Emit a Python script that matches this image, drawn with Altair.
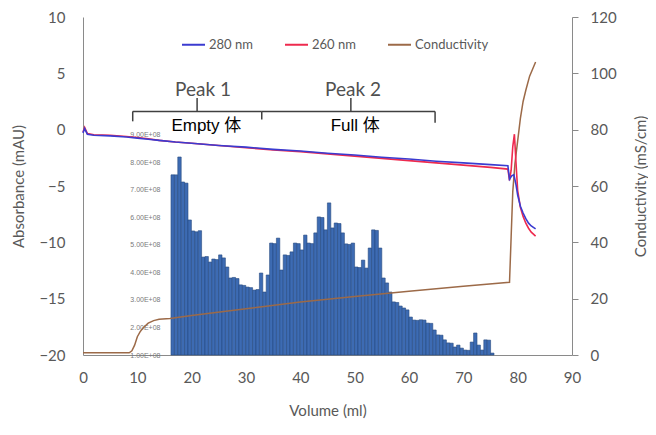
import altair as alt
import pandas as pd

# ---- Absorbance traces (mAU) ----
vol_280 = [0, 0.3, 0.8, 2, 5, 8, 10, 12, 14, 17, 20, 25, 30, 35, 40, 45, 50, 55, 60, 65, 70, 75, 78.2,
           78.5, 78.9, 79.3, 79.7, 80.0, 80.5, 81.0, 81.5, 82.0, 82.5, 83.3]
abs_280 = [-0.3, 0.1, -0.4, -0.5, -0.55, -0.65, -0.75, -0.85, -0.95, -1.1, -1.2, -1.4, -1.55, -1.75, -1.9,
           -2.1, -2.25, -2.45, -2.6, -2.8, -2.95, -3.1, -3.2,
           -4.4, -4.1, -4.0, -4.9, -5.8, -6.8, -7.4, -7.9, -8.3, -8.55, -8.8]
vol_260 = [0, 0.3, 0.8, 2, 5, 8, 10, 12, 14, 17, 20, 25, 30, 35, 40, 45, 50, 55, 60, 65, 70, 75, 78.2,
           78.5, 78.8, 79.1, 79.4, 79.7, 80.0, 80.5, 81.0, 81.5, 82.0, 82.5, 83.3]
abs_260 = [-0.2, 0.2, -0.35, -0.45, -0.5, -0.6, -0.7, -0.8, -0.95, -1.1, -1.2, -1.4, -1.6, -1.8, -1.95,
           -2.15, -2.35, -2.55, -2.75, -2.95, -3.15, -3.35, -3.5,
           -4.5, -3.6, -1.5, -0.4, -3.0, -5.4, -6.9, -7.7, -8.3, -8.75, -9.1, -9.45]

# ---- Conductivity (mS/cm) ----
vol_cond = [0, 4, 8.5, 9.0, 9.5, 10.0, 10.5, 11.0, 12.0, 13.0, 14.0, 16.0, 20, 30, 40, 50, 60, 70,
            78.5, 78.8, 79.1, 79.5, 80.0, 80.5, 81.0, 81.5, 82.2, 83.3]
cond = [0.8, 0.8, 0.8, 1.5, 3.5, 6.5, 8.2, 9.5, 11.3, 12.2, 12.7, 13.0, 14.0, 16.4, 18.8, 20.8, 22.6, 24.4,
        25.8, 42, 58, 68, 76, 84, 90, 94, 99, 104]

# ---- Inset histogram (particle counts, units of 1E+08) ----
hist_e8 = [7.55, 7.55, 8.20, 7.29, 7.25, 5.91, 5.51, 5.48, 5.52, 4.56, 4.58, 4.38, 4.49, 4.47, 4.64, 4.53,
           4.20, 3.80, 3.82, 3.78, 3.55, 3.53, 3.47, 3.45, 3.36, 3.38, 3.98, 3.29, 3.91, 5.07, 5.05, 5.25,
           4.09, 4.64, 4.62, 4.75, 5.07, 5.05, 4.82, 5.36, 5.07, 5.05, 5.44, 6.02, 6.00, 5.55, 6.53, 5.62,
           5.80, 5.78, 5.44, 5.04, 5.02, 5.07, 4.20, 4.18, 4.45, 4.16, 4.89, 5.55, 5.53, 4.89, 3.80, 3.62,
           3.29, 2.93, 2.91, 2.78, 2.71, 2.64, 2.38, 2.27, 2.26, 2.28, 2.27, 2.16, 2.15, 1.91, 1.73, 1.72,
           1.55, 1.44, 1.43, 1.29, 1.36, 1.25, 1.18, 1.17, 1.47, 1.80, 1.36, 1.18, 1.55, 1.54, 1.07]
fractions = list(range(1, len(hist_e8) + 1))
inset_ticks_e8 = [1, 2, 3, 4, 5, 6, 7, 8, 9]

# ---- Annotations ----
brace_x1 = [9.15, 9.15, 32.9, 21.0, 32.9, 64.8, 49.3]
brace_x2 = [32.9, 9.15, 32.9, 21.0, 64.8, 64.8, 49.3]
brace_y1 = [1.62, 1.62, 1.62, 1.62, 1.62, 1.62, 1.62]
brace_y2 = [1.62, 0.74, 0.9, 2.81, 1.62, 0.62, 2.81]
peak_labels = ["Peak 1", "Peak 2"]
peak_x = [22.1, 49.7]
peak_y = [3.55, 3.55]
kind_labels = ["Empty 体", "Full 体"]
kind_x = [22.7, 50.1]
kind_y = [0.3, 0.3]

series_names = ["280 nm", "260 nm", "Conductivity"]
series_colors = ["#3b3bd0", "#ee2a4e", "#9c6a48"]

GRAY = "#595959"
AXIS_GRAY = "#8a8a8a"

abs_df = pd.concat([
    pd.DataFrame({"vol": vol_260, "abs": abs_260, "series": "260 nm"}),
    pd.DataFrame({"vol": vol_280, "abs": abs_280, "series": "280 nm"}),
])
cond_df = pd.DataFrame({"vol": vol_cond, "cond": cond, "series": "Conductivity"})
hist_df = pd.DataFrame({"frac": fractions, "frac_end": [f + 1 for f in fractions],
                        "count": [v * 1e8 for v in hist_e8]})
brace_df = pd.DataFrame({"x1": brace_x1, "x2": brace_x2, "y1": brace_y1, "y2": brace_y2})
peak_df = pd.DataFrame({"label": peak_labels, "x": peak_x, "y": peak_y})
kind_df = pd.DataFrame({"label": kind_labels, "x": kind_x, "y": kind_y})

xs = alt.Scale(domain=[0, 90], nice=False, zero=False)
ys_abs = alt.Scale(domain=[-20, 10], nice=False, zero=False)
color_scale = alt.Scale(domain=series_names, range=series_colors)
legend = alt.Legend(title=None, orient="none", legendX=98, legendY=15, direction="horizontal",
                    symbolType="stroke", symbolSize=529, symbolStrokeWidth=2, labelFontSize=13,
                    labelColor=GRAY, labelFont="Lato", columnPadding=28, labelOffset=3)

bars = alt.Chart(hist_df).mark_bar(color="#3d6bb3", stroke="#274a80", strokeWidth=0.6).encode(
    x=alt.X("frac:Q", scale=alt.Scale(domain=[-24.88, 118.94], nice=False, zero=False), axis=None),
    x2="frac_end:Q",
    y=alt.Y("count:Q", scale=alt.Scale(domain=[1e8, 13.29e8], nice=False, zero=False),
            axis=alt.Axis(orient="left", offset=-80, values=[v * 1e8 for v in inset_ticks_e8],
                          labelExpr="format(datum.value / 1e8, '.2f') + 'E+08'",
                          labelFontSize=7, labelColor="#7a7a7a", labelFont="Liberation Sans",
                          ticks=False, domain=False, grid=False, title=None, labelPadding=3)),
    y2=alt.datum(1e8),
)

cond_line = alt.Chart(cond_df).mark_line(strokeWidth=1.5).encode(
    x=alt.X("vol:Q", scale=xs, axis=None),
    y=alt.Y("cond:Q", scale=alt.Scale(domain=[0, 120], nice=False, zero=False),
            axis=alt.Axis(orient="right", values=[0, 20, 40, 60, 80, 100, 120],
                          title="Conductivity (mS/cm)", titleAngle=270, titleX=68, titleY=169,
                          titleAlign="center", titleBaseline="middle", labelFlush=False,
                          tickSize=6, labelPadding=12, grid=False)),
    color=alt.Color("series:N", scale=color_scale, legend=legend),
)

abs_line = alt.Chart(abs_df).mark_line(strokeWidth=1.6).encode(
    x=alt.X("vol:Q", scale=xs,
            axis=alt.Axis(title="Volume (ml)", values=list(range(0, 91, 10)), ticks=False,
                          labelFlush=False, labelPadding=15, titleY=55, titleBaseline="middle",
                          grid=False)),
    y=alt.Y("abs:Q", scale=ys_abs,
            axis=alt.Axis(orient="left", values=[-20, -15, -10, -5, 0, 5, 10], title="Absorbance (mAU)",
                          titleAngle=270, titleX=-65, titleY=169, titleAlign="center", labelFlush=False,
                          titleBaseline="middle", ticks=False, labelPadding=18, grid=False)),
    color=alt.Color("series:N", scale=color_scale, legend=legend),
)

braces = alt.Chart(brace_df).mark_rule(color="#404040", strokeWidth=1.5).encode(
    x=alt.X("x1:Q", scale=xs, axis=None),
    x2="x2:Q",
    y=alt.Y("y1:Q", scale=ys_abs, axis=None),
    y2="y2:Q",
)

peaks = alt.Chart(peak_df).mark_text(fontSize=19, color="#505050", font="Lato").encode(
    x=alt.X("x:Q", scale=xs, axis=None),
    y=alt.Y("y:Q", scale=ys_abs, axis=None),
    text="label:N",
)

kinds = alt.Chart(kind_df).mark_text(fontSize=17, color="#000000",
                                     font="Liberation Sans, Noto Sans CJK SC").encode(
    x=alt.X("x:Q", scale=xs, axis=None),
    y=alt.Y("y:Q", scale=ys_abs, axis=None),
    text="label:N",
)

chart = alt.layer(bars, cond_line, abs_line, braces, peaks, kinds).resolve_scale(
    x="independent", y="independent"
).properties(
    width=489, height=338,
    autosize=alt.AutoSizeParams(type="none"),
    padding={"left": 75, "top": 9, "right": 76, "bottom": 70},
).configure(font="Lato").configure_view(stroke=None).configure_axis(
    domainColor=AXIS_GRAY, tickColor=AXIS_GRAY, labelColor=GRAY, titleColor=GRAY,
    labelFontSize=15, titleFontSize=15, labelFont="Lato", titleFont="Lato",
    titleFontWeight="normal", grid=False,
)

chart.save("out.html", embed_options={"renderer": "svg", "actions": False})
